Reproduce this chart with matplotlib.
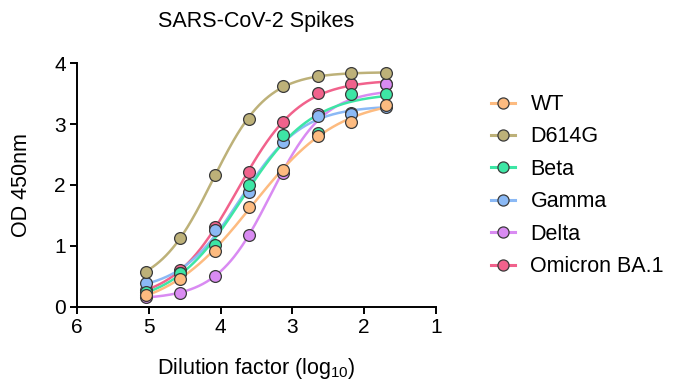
import numpy as np
import matplotlib
matplotlib.use("Agg")
import matplotlib.pyplot as plt

plt.rcParams['font.family'] = ['Liberation Sans', 'DejaVu Sans']

# log10 dilution (1:50, 3-fold serial)
log_dil = [5.04, 4.56, 4.08, 3.61, 3.13, 2.65, 2.18, 1.70]

wt = [0.20, 0.45, 0.92, 1.64, 2.25, 2.81, 3.04, 3.31]
d614g = [0.58, 1.13, 2.16, 3.08, 3.63, 3.79, 3.83, 3.83]
beta = [0.25, 0.55, 1.02, 2.00, 2.82, 2.85, 3.49, 3.50]
gamma = [0.40, 0.55, 1.26, 1.89, 2.71, 3.13, 3.17, 3.28]
delta = [0.16, 0.23, 0.50, 1.18, 2.20, 3.17, 3.18, 3.65]
omicron = [0.27, 0.60, 1.31, 2.21, 3.03, 3.51, 3.65, 3.65]

names = ["WT", "D614G", "Beta", "Gamma", "Delta", "Omicron BA.1"]
series = [wt, d614g, beta, gamma, delta, omicron]
colors = ["#fdbb80", "#bdb179", "#3de6a5", "#8bb9f5", "#d98bf2", "#f1628c"]


def fit_4pl(x, y):
    # simple grid search for logEC50 / hill, linear lsq for bottom / top
    x = np.asarray(x)
    y = np.asarray(y)
    best = None
    for c in np.linspace(2.0, 5.0, 301):
        for h in np.linspace(0.3, 3.0, 271):
            s = 1.0 / (1.0 + 10 ** ((x - c) * h))
            A = np.column_stack([1 - s, s])
            coef, *_ = np.linalg.lstsq(A, y, rcond=None)
            err = np.sum((A @ coef - y) ** 2)
            if best is None or err < best[0]:
                best = (err, coef[0], coef[1], c, h)
    return best[1:]


fig = plt.figure(figsize=(6.74, 3.87), dpi=100)
ax = fig.add_axes([0.114, 0.207, 0.533, 0.63])

xs = np.linspace(min(log_dil), max(log_dil), 300)
n = len(names)
for i, (name, vals, col) in enumerate(zip(names, series, colors)):
    bot, top, c, h = fit_4pl(log_dil, vals)
    fit = bot + (top - bot) / (1 + 10 ** ((xs - c) * h))
    # first series ends up on top
    z = 2 + (n - i) * 0.1
    ax.plot(xs, fit, color=col, lw=1.8, zorder=z)
    ax.plot(log_dil, vals, 'o', ms=8.5, mfc=col, mec='#3a3a3a', mew=0.9, zorder=z + 1)
    ax.plot([], [], '-o', color=col, lw=2.2, ms=8, mfc=col, mec='#3a3a3a', mew=0.9, label=name)

ax.set_xlim(6, 1)
ax.set_ylim(0, 4)
ax.set_xticks([6, 5, 4, 3, 2, 1])
ax.set_yticks([0, 1, 2, 3, 4])
ax.spines['top'].set_visible(False)
ax.spines['right'].set_visible(False)
ax.spines['left'].set_linewidth(1.4)
ax.spines['bottom'].set_linewidth(1.4)
ax.tick_params(width=1.4, length=5, labelsize=15, pad=3)
ax.set_xlabel(r"Dilution factor (log$_{\mathregular{10}}$)", fontsize=15.5, labelpad=14)
ax.set_ylabel("OD 450nm", fontsize=15.5, labelpad=16)
ax.set_title("SARS-CoV-2 Spikes", fontsize=15.5, pad=26)

ax.legend(loc='upper left', bbox_to_anchor=(0.728, 0.757), bbox_transform=fig.transFigure,
          frameon=False, fontsize=15.5, handlelength=1.15, handletextpad=0.7,
          labelspacing=0.53, borderpad=0, borderaxespad=0)

fig.savefig("out.png", dpi=100)
